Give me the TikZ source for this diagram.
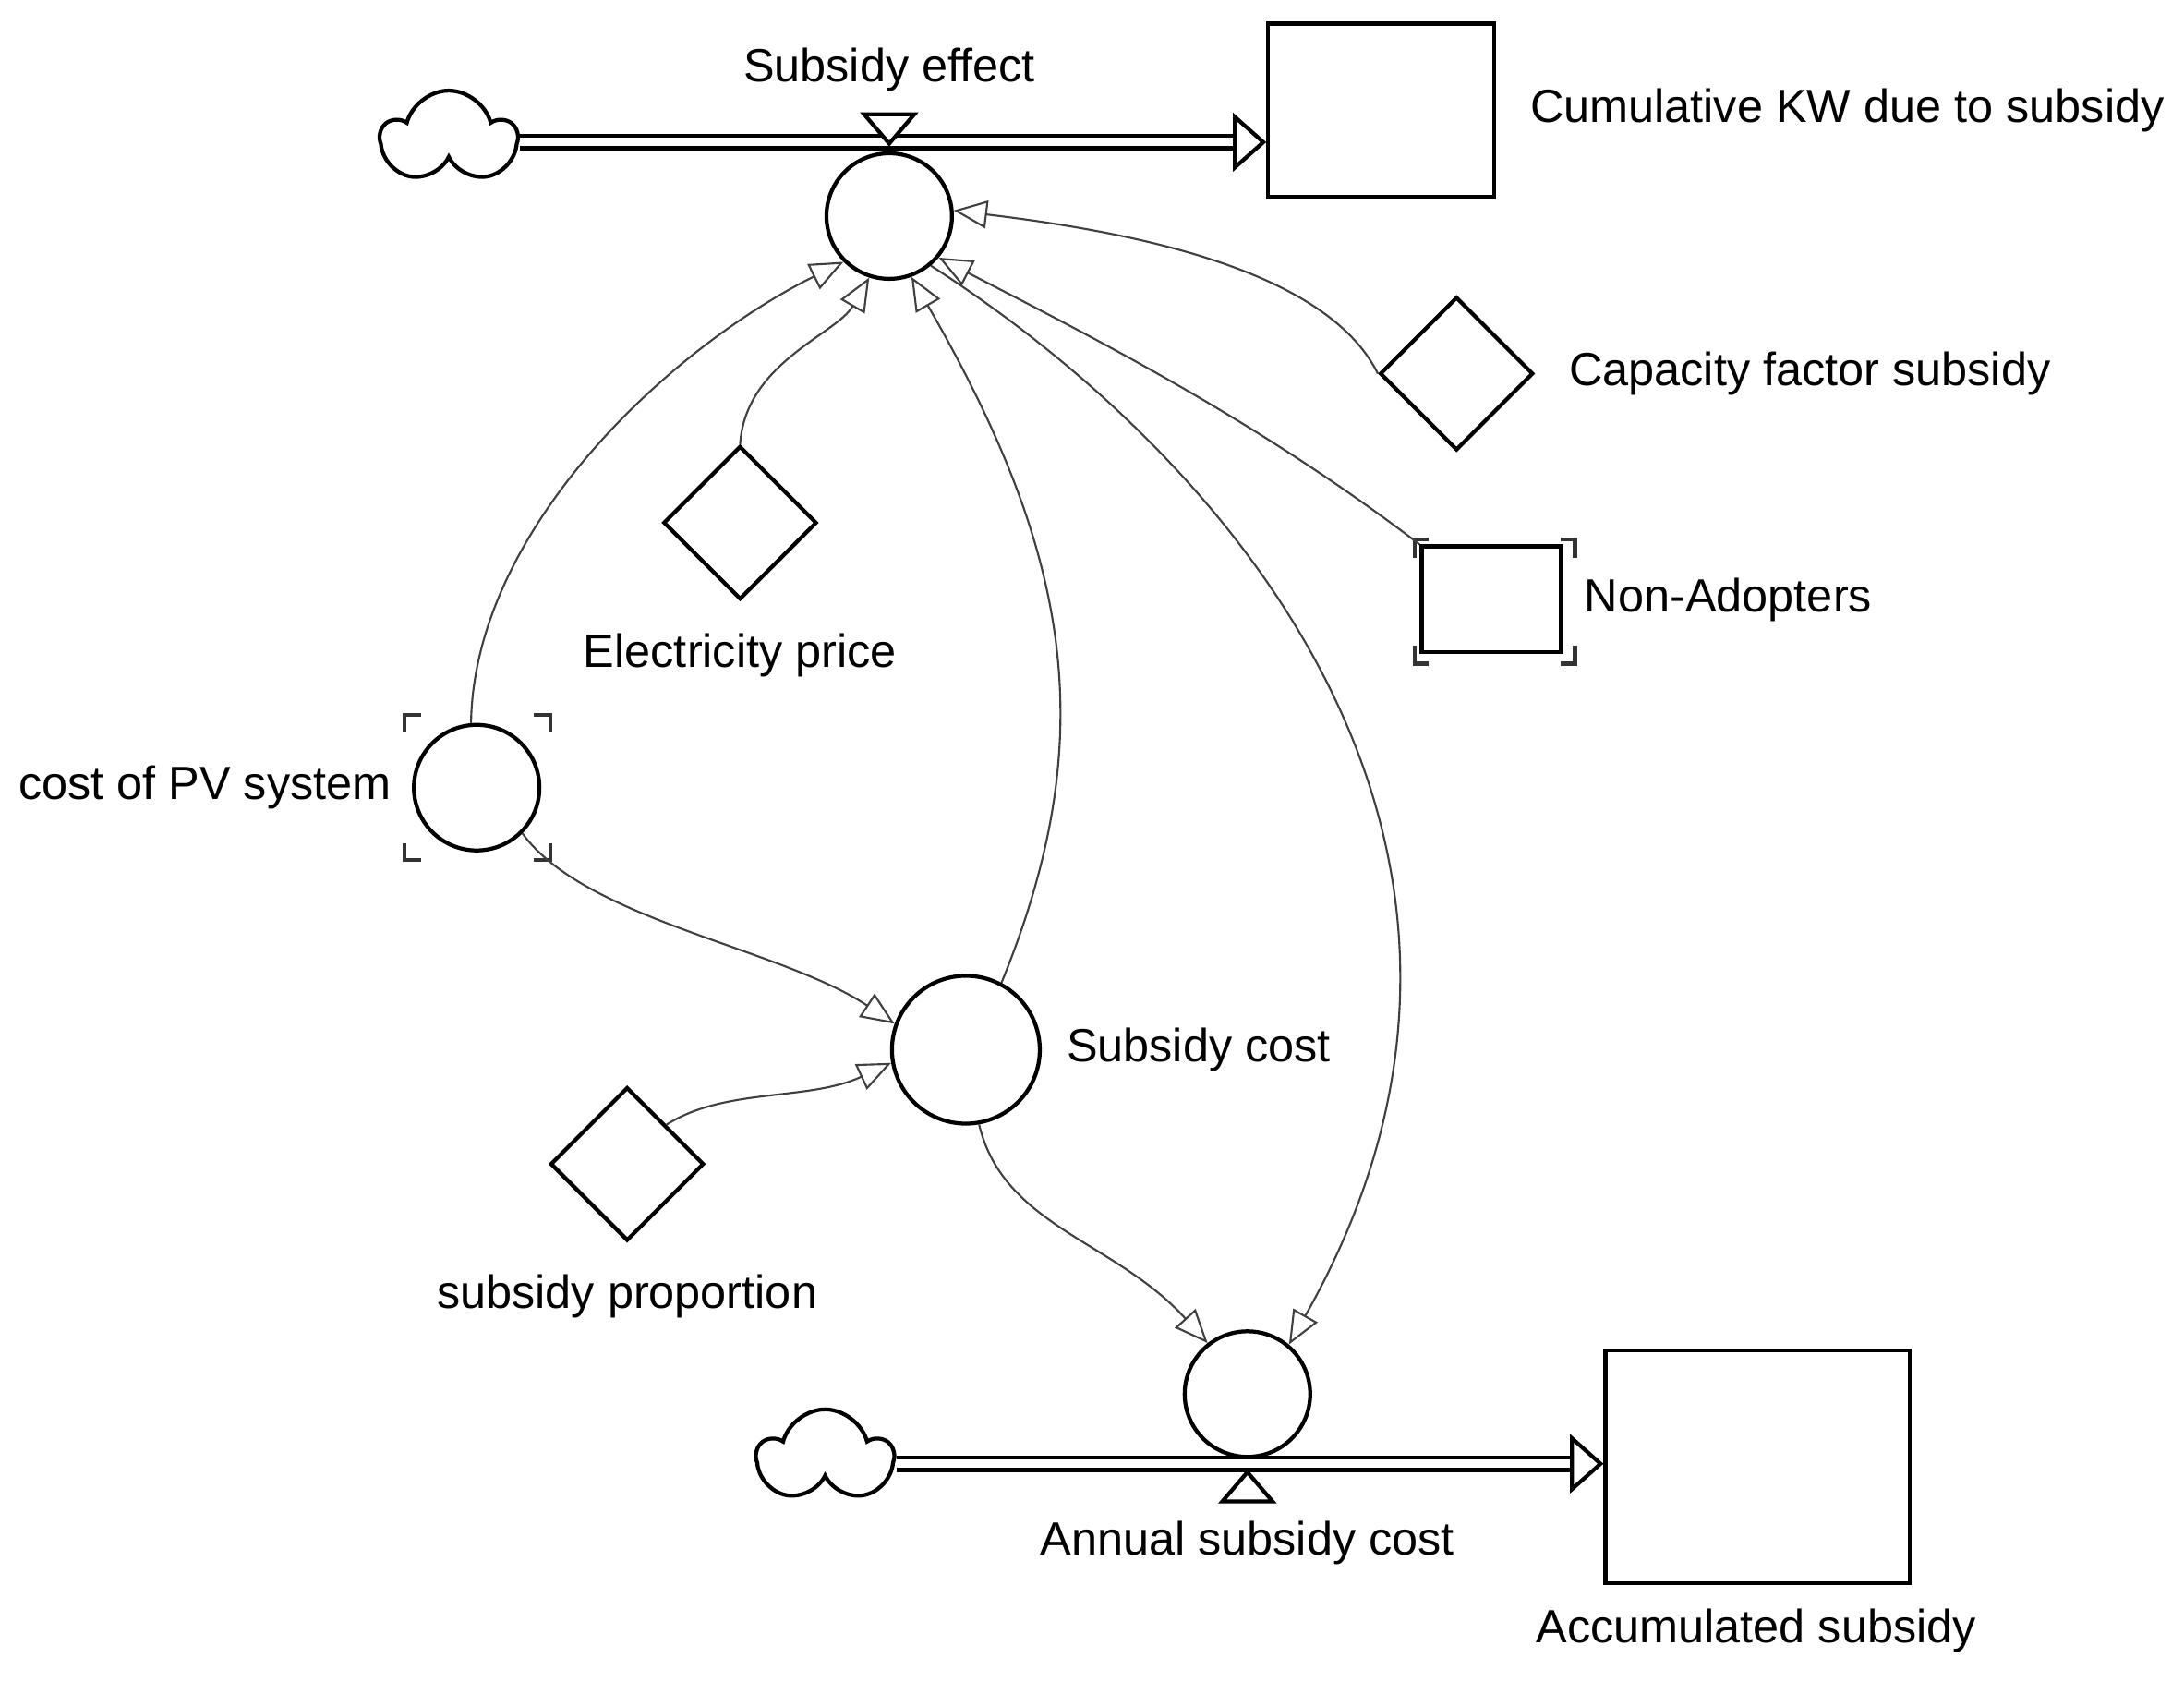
\documentclass[tikz,border=0pt]{standalone}
\usepackage{fontspec}
\setmainfont{Liberation Sans}
\usetikzlibrary{arrows.meta, shapes.geometric, shapes.symbols}

\begin{document}
\begin{tikzpicture}[x=0.01cm, y=-0.01cm,
    font=\fontsize{9.5}{11}\selectfont,
    aux/.style={circle, draw, thick, minimum size=0.9cm, inner sep=0pt},
    const/.style={diamond, draw, thick, minimum size=1.1cm, inner sep=0pt},
    stock/.style={rectangle, draw, thick, inner sep=0pt},
    cloudy/.style={cloud, cloud puffs=5, draw, thick, minimum width=0.95cm, minimum height=0.68cm, inner sep=0pt},
    pipe/.style={draw, thick, double, double distance=0.6mm,
        -{Triangle[open, length=2.4mm, width=4.2mm, line width=0.8pt]}},
    link/.style={black!75, line width=0.4pt,
        -{Triangle[open, length=2.4mm, width=2mm]}},
    bracket/.style={thick, black!80},
]
\useasboundingbox (0,0) rectangle (1567,1215);

% flows, stocks and clouds
\node[cloudy] (cloudA) at (322,99) {};
\node[stock, minimum width=1.62cm, minimum height=1.24cm] (cumkw) at (991,79) {};
\node[right=0.12cm] at (cumkw.east) {Cumulative KW due to subsidy};
\node[aux] (effect) at (638,155) {};
\node (effectlbl) at (638,50) {Subsidy effect};
\draw[pipe] (cloudA.east |- 0,102) -- (cumkw.west |- 0,102);
\draw[thick, fill=white] (620,82) -- (656,82) -- (638,103) -- cycle;

\node[cloudy] (cloudB) at (592,1045) {};
\node[stock, minimum width=2.18cm, minimum height=1.67cm] (accum) at (1261,1052) {};
\node at (1260,1170) {Accumulated subsidy};
\draw[pipe] (cloudB.east |- 0,1050) -- (accum.west |- 0,1050);
\node[aux] (annual) at (895,1000) {};
\draw[thick, fill=white] (877,1077) -- (913,1077) -- (895,1056) -- cycle;
\node at (895,1107) {Annual subsidy cost};

% auxiliaries and constants
\node[const] (capfac) at (1045,268) {};
\node[right=0.12cm] at (capfac.east) {Capacity factor subsidy};
\node[stock, minimum width=1cm, minimum height=0.76cm] (nonadopt) at (1070,430) {};
\node at (1240,430) {Non-Adopters};
\node[const] (elec) at (531,375) {};
\node at (531,470) {Electricity price};
\node[aux] (pv) at (342,565) {};
\node at (147,565) {cost of PV system};
\node[aux, minimum size=1.06cm] (subcost) at (693,753) {};
\node at (860,753) {Subsidy cost};
\node[const] (prop) at (450,835) {};
\node at (450,930) {subsidy proportion};

% ghost brackets
\draw[bracket] (1015,400) |- (1025,387);  \draw[bracket] (1120,387) -| (1130,400);
\draw[bracket] (1015,463) |- (1025,476);  \draw[bracket] (1120,476) -| (1130,463);
\draw[bracket] (290,525) |- (302,513);    \draw[bracket] (383,513) -| (395,525);
\draw[bracket] (290,605) |- (302,617);    \draw[bracket] (383,617) -| (395,605);

% links
\draw[link] (pv.95) .. controls (340,380) and (480,250) .. (effect.225);
\draw[link] (elec.north) .. controls (535,260) and (600,240) .. (effect.252);
\draw[link] (subcost.62) .. controls (790,530) and (770,400) .. (effect.290);
\draw[link] (capfac.west) .. controls (950,190) and (800,165) .. (effect.5);
\draw[link] (nonadopt.north west) .. controls (900,300) and (780,240) .. (effect.320);
\draw[link] (effect.310) .. controls (900,340) and (1120,620) .. (annual.50);
\draw[link] (pv.315) .. controls (420,660) and (560,680) .. (subcost.160);
\draw[link] (prop.north east) .. controls (520,780) and (580,790) .. (subcost.190);
\draw[link] (subcost.280) .. controls (720,880) and (800,890) .. (annual.128);
\end{tikzpicture}
\end{document}
